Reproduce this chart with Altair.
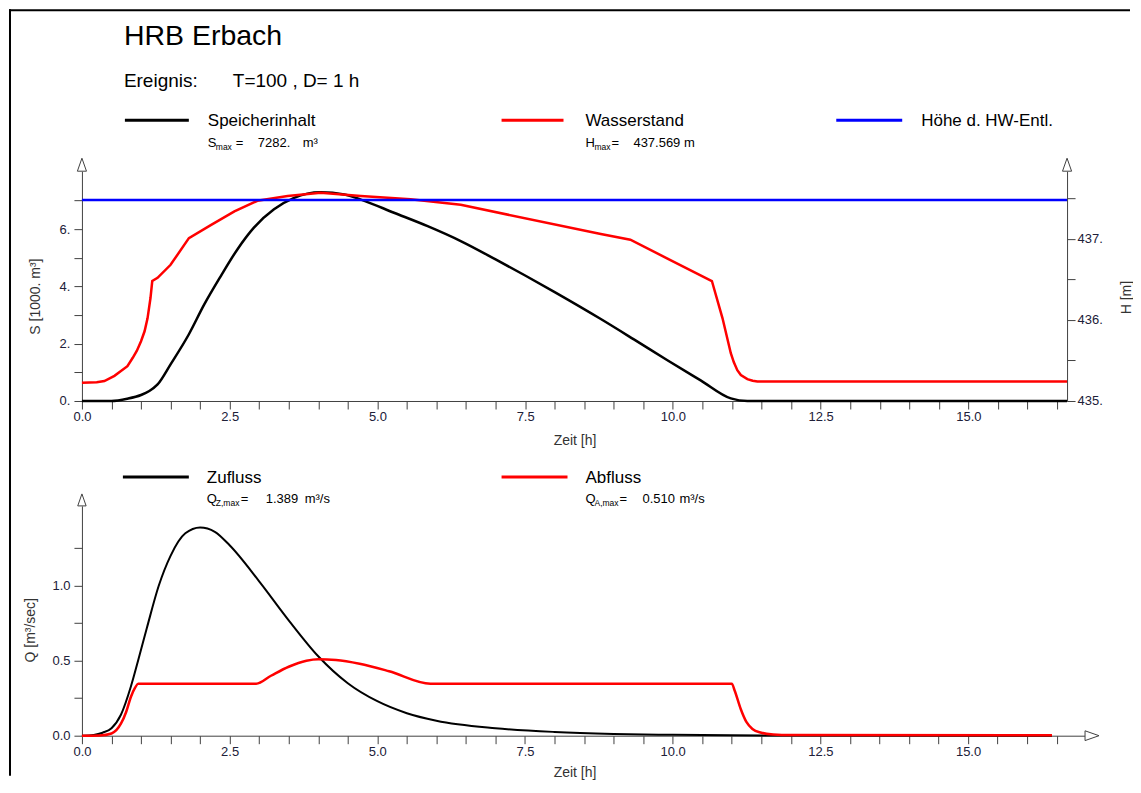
import altair as alt
import pandas as pd

FONT = "Liberation Sans"

# ---------------- data ----------------
TITLE = "HRB Erbach"
EVENT_LABEL = "Ereignis:"
EVENT_TEXT = "T=100 , D= 1 h"

TOP_SERIES = ["Speicherinhalt", "Wasserstand", "Höhe d. HW-Entl."]
BOTTOM_SERIES = ["Zufluss", "Abfluss"]

S_MAX = "7282."
H_MAX = "437.569 m"
QZ_MAX = "1.389"
QA_MAX = "0.510"

# Speicherinhalt S [1000 m3]
T_S = [0.0, 0.5, 0.77, 1.0, 1.14, 1.28, 1.5, 1.81, 2.07, 2.35, 2.63, 2.91, 3.25, 3.59,
       4.04, 4.44, 4.72, 5.28, 5.85, 6.41, 7.0, 7.5, 8.0, 8.78, 9.34, 9.9, 10.47, 10.98,
       11.26, 16.67]
S = [0.0, 0.0, 0.08, 0.21, 0.35, 0.58, 1.28, 2.33, 3.37, 4.36, 5.29, 6.05, 6.69, 7.09,
     7.282, 7.21, 7.03, 6.57, 6.10, 5.58, 4.94, 4.38, 3.80, 2.86, 2.15, 1.43, 0.72, 0.09,
     0.0, 0.0]

# Wasserstand H [m]
T_H = [0.0, 0.25, 0.38, 0.55, 0.66, 0.77, 0.86, 0.93, 1.0, 1.06, 1.11, 1.16, 1.19, 1.28,
       1.5, 1.81, 2.18, 2.58, 2.97, 3.48, 4.04, 4.72, 5.56, 6.41, 8.78, 9.28, 9.9, 10.66,
       10.84, 10.98, 11.03, 11.09, 11.15, 11.26, 11.35, 11.43, 16.67]
H = [435.225, 435.232, 435.246, 435.31, 435.369, 435.43, 435.533, 435.62, 435.738, 435.86,
     436.02, 436.27, 436.48, 436.52, 436.68, 437.01, 437.17, 437.34, 437.47, 437.53,
     437.569, 437.53, 437.49, 437.42, 437.06, 436.99, 436.76, 436.48, 436.02, 435.59,
     435.48, 435.38, 435.32, 435.27, 435.25, 435.24, 435.24]

# Höhe der HW-Entlastung [m]
T_HW = [0.0, 16.67]
HW = [437.48, 437.48]

# Zufluss [m3/s]
T_QZ = [0.0, 0.2, 0.35, 0.5, 0.66, 0.83, 0.95, 1.1, 1.3, 1.5, 1.75, 2.0, 2.25, 2.5, 3.0,
        3.5, 4.0, 4.5, 5.0, 5.5, 6.0, 7.0, 8.0, 9.0, 10.0, 11.0, 12.0, 16.42]
QZ = [0.0, 0.005, 0.02, 0.05, 0.14, 0.33, 0.5, 0.72, 1.0, 1.2, 1.35, 1.389, 1.36, 1.27,
      1.03, 0.77, 0.53, 0.35, 0.23, 0.15, 0.10, 0.05, 0.025, 0.012, 0.006, 0.003, 0.001, 0.0]

# Abfluss [m3/s]
T_QA = [0.0, 0.3, 0.5, 0.66, 0.75, 0.83, 0.9, 0.95, 2.95, 3.2, 3.5, 3.8, 4.0, 4.3, 4.7,
        5.2, 5.9, 11.0, 11.05, 11.15, 11.25, 11.35, 11.5, 11.7, 12.0, 16.42]
QA = [0.0, 0.002, 0.015, 0.08, 0.16, 0.26, 0.32, 0.347, 0.347, 0.40, 0.46, 0.50, 0.51,
      0.505, 0.48, 0.43, 0.347, 0.347, 0.30, 0.18, 0.09, 0.045, 0.02, 0.008, 0.004, 0.003]

X_TICKS = [i * 0.5 for i in range(34)]
S_TICKS = [0, 1, 2, 3, 4, 5, 6, 7]
H_TICKS = [435.0, 435.5, 436.0, 436.5, 437.0, 437.5]
Q_TICKS = [0.0, 0.25, 0.5, 0.75, 1.0, 1.25]

# ---------------- layout constants ----------------
W_TOP, W_BOT, PH = 986, 1004, 230
AX = "#404040"
LBL = "#202038"

df_s = pd.DataFrame({"t": T_S, "v": S})
df_h = pd.DataFrame({"t": T_H, "v": H})
df_hw = pd.DataFrame({"t": T_HW, "v": HW})
df_qz = pd.DataFrame({"t": T_QZ, "v": QZ})
df_qa = pd.DataFrame({"t": T_QA, "v": QA})
one = pd.DataFrame({"k": [0]})

axis_common = dict(
    domainColor=AX, tickColor=AX, domainWidth=1, tickWidth=1, tickSize=8,
    labelFont=FONT, labelFontSize=13, labelColor=LBL, labelOverlap=False,
    titleFont=FONT, titleFontSize=14, titleFontWeight="normal", titleColor="#333333",
    grid=False, titleAlign="center", titleBaseline="middle",
)


def x_enc(domain_max, title_y):
    return alt.X(
        "t:Q",
        scale=alt.Scale(domain=[0, domain_max], nice=False, zero=False),
        axis=alt.Axis(
            values=X_TICKS, title="Zeit [h]", labelFlush=False, labelPadding=2,
            labelExpr="datum.value % 2.5 == 0 ? format(datum.value, '.1f') : ''",
            titleX=493, titleY=title_y, titleAngle=0, **axis_common,
        ),
    )


def txt(label, x, y, size, **kw):
    return alt.Chart(pd.DataFrame({"label": [label]})).mark_text(
        align="left", baseline="alphabetic", font=FONT, fontSize=size, color="black", **kw
    ).encode(x=alt.value(x), y=alt.value(y), text="label:N")


def legline(x1, x2, y, color):
    return alt.Chart(one).mark_rule(color=color, strokeWidth=3).encode(
        x=alt.value(x1), x2=alt.value(x2), y=alt.value(y))


UP = "M0,-1L0.7,1L-0.7,1Z"
RIGHT = "M1,0L-1,-0.7L-1,0.7Z"


def arrow(x, y, shape, size):
    return alt.Chart(one).mark_point(
        shape=shape, size=size, filled=True, fill="white", stroke=AX, strokeWidth=1, opacity=1
    ).encode(x=alt.value(x), y=alt.value(y))


# ---------------- top panel ----------------
xt = x_enc(16.67, 40)

s_line = alt.Chart(df_s).mark_line(color="black", strokeWidth=2.5, interpolate="monotone").encode(
    x=xt,
    y=alt.Y("v:Q", scale=alt.Scale(domain=[0, 8.02], nice=False, zero=False),
            axis=alt.Axis(orient="left", values=S_TICKS, title="S [1000. m³]",
                          labelExpr="datum.value % 2 == 0 ? datum.value + '.' : ''",
                          labelPadding=4, titleX=-46, titleY=125, titleAngle=270,
                          **axis_common)),
)

h_y = alt.Y("v:Q", scale=alt.Scale(domain=[435, 437.835], nice=False, zero=False),
            axis=alt.Axis(orient="right", values=H_TICKS, title="H [m]",
                          labelExpr="datum.value % 1 == 0 ? format(datum.value, '.0f') + '.' : ''",
                          labelPadding=2, titleX=59, titleY=126, titleAngle=270,
                          **axis_common))
h_line = alt.Chart(df_h).mark_line(color="#FF0000", strokeWidth=2.5, interpolate="linear").encode(x=xt, y=h_y)
hw_line = alt.Chart(df_hw).mark_line(color="#0000FF", strokeWidth=2.5).encode(x=xt, y=h_y)
h_layer = alt.layer(h_line, hw_line)

frame_left = alt.Chart(one).mark_rule(color="black", strokeWidth=2).encode(
    x=alt.value(-72), y=alt.value(-162), y2=alt.value(605))
frame_top = alt.Chart(one).mark_rule(color="black", strokeWidth=2).encode(
    x=alt.value(-73), x2=alt.value(1049), y=alt.value(-161))

top_text = [
    txt(TITLE, 42, -126, 28.5),
    txt(EVENT_LABEL, 42, -84, 19),
    txt(EVENT_TEXT, 151, -84, 19),
    legline(43, 107, -51, "black"),
    txt(TOP_SERIES[0], 126, -45, 17),
    txt("S", 126, -24, 13),
    txt("max", 134, -21, 8.5),
    txt("=", 154, -24, 13),
    txt(S_MAX, 176, -24, 13),
    txt("m³", 221, -24, 13),
    legline(420, 482, -51, "#FF0000"),
    txt(TOP_SERIES[1], 504, -45, 17),
    txt("H", 504, -24, 13),
    txt("max", 513, -21, 8.5),
    txt("=", 530, -24, 13),
    txt(H_MAX, 552, -24, 13),
    legline(755, 821, -51, "#0000FF"),
    txt(TOP_SERIES[2], 840, -45, 17),
    arrow(0, -6.5, UP, 169),
    arrow(W_TOP, -6.5, UP, 169),
    frame_left,
    frame_top,
]

top = alt.layer(s_line, h_layer, *top_text).resolve_scale(y="independent").properties(
    width=W_TOP, height=PH)

# ---------------- bottom panel ----------------
xb = x_enc(16.98, 37)
q_y = alt.Y("v:Q", scale=alt.Scale(domain=[0, 1.533], nice=False, zero=False),
            axis=alt.Axis(orient="left", values=Q_TICKS, title="Q [m³/sec]",
                          labelExpr="datum.value % 0.5 == 0 ? format(datum.value, '.1f') : ''",
                          labelPadding=4, titleX=-51, titleY=124, titleAngle=270,
                          **axis_common))
qz_line = alt.Chart(df_qz).mark_line(color="black", strokeWidth=2, interpolate="monotone").encode(x=xb, y=q_y)
qa_line = alt.Chart(df_qa).mark_line(color="#FF0000", strokeWidth=2.5, interpolate="monotone").encode(x=xb, y=q_y)

bot_text = [
    legline(41, 107, -29, "black"),
    txt(BOTTOM_SERIES[0], 125, -23, 17),
    txt("Q", 125, -3, 13),
    txt("Z,max", 134, 0, 8.5),
    txt("=", 159, -3, 13),
    txt(QZ_MAX, 184, -3, 13),
    txt("m³/s", 223, -3, 13),
    legline(420, 486, -29, "#FF0000"),
    txt(BOTTOM_SERIES[1], 504, -23, 17),
    txt("Q", 504, -3, 13),
    txt("A,max", 513, 0, 8.5),
    txt("=", 538, -3, 13),
    txt(QA_MAX, 561, -3, 13),
    txt("m³/s", 598, -3, 13),
    arrow(0, -6, UP, 144),
    arrow(W_BOT + 7, PH, RIGHT, 196),
]

bottom = alt.layer(qz_line, qa_line, *bot_text).properties(width=W_BOT, height=PH)

chart = alt.vconcat(top, bottom, spacing=105, bounds="flush").properties(
    padding=0, background="white"
).configure_view(stroke=None)

chart.save("out.html", embed_options={"renderer": "svg", "actions": False})
